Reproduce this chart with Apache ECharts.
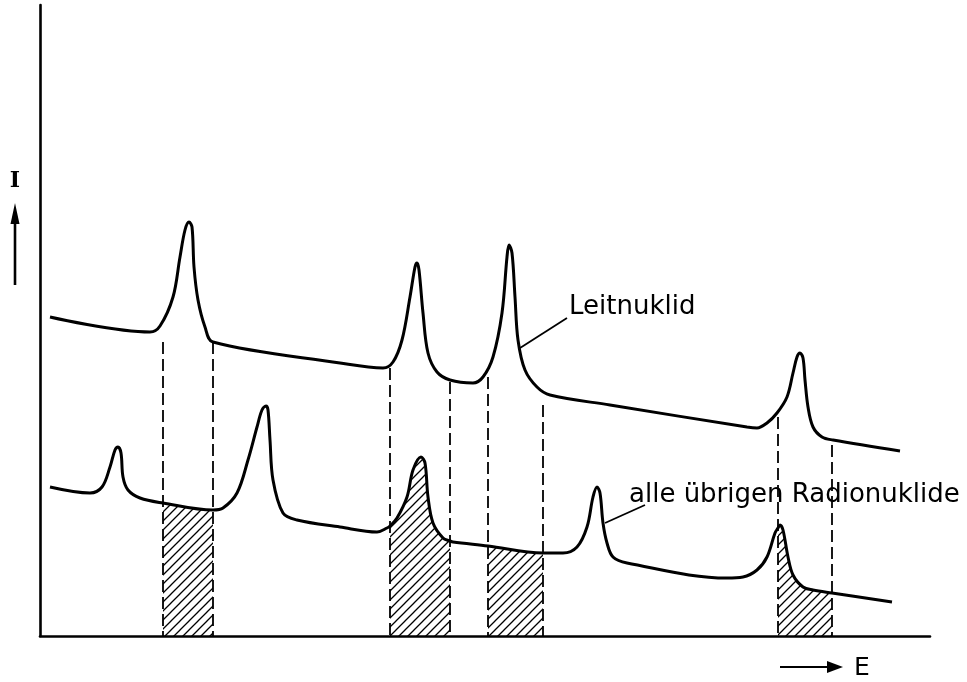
<!DOCTYPE html>
<html>
<head>
<meta charset="utf-8">
<script src="https://cdn.jsdelivr.net/npm/echarts@6/dist/echarts.min.js"></script>
<style>html,body{margin:0;padding:0;background:#fff}#c{width:967px;height:682px}</style>
</head>
<body>
<div id="c"></div>
<script>
// Energy (E) / intensity (I) read from the schematic, arbitrary units
var leitE = [10,110,120,133,140,145,149,152,154,158,165,173,300,343,353,362,370,375,377,379,383,388,397,410,433,443,453,462,467,469,472,475,478,485,497,510,570,707,717,727,737,747,753,757,760,763,765,768,773,782,793,860];
var leitI = [319,304,310,339,379,406,414,409,369,336,309,294,273,268,274,296,339,369,373,366,323,283,264,256,253,259,279,323,379,391,383,339,296,266,249,241,231,209,208,213,223,239,263,279,283,278,256,229,209,199,196,185];
var restE = [10,50,62,70,75,78,81,83,88,100,123,173,183,197,208,217,222,226,228,230,233,243,257,300,337,347,350,357,367,373,381,385,388,393,403,410,413,448,503,523,537,547,553,557,560,563,567,573,587,687,703,717,727,735,738,740,743,748,753,763,773,792,852];
var restI = [149,143,149,169,186,189,183,159,146,138,133,126,128,143,176,209,226,230,226,196,156,123,116,109,104,108,110,118,139,166,179,173,139,113,98,95,94,90,83,83,89,109,139,149,143,113,93,79,73,58,59,66,79,103,108,111,106,79,61,49,46,43,34];
// dashed windows (left/right energy of each window) and top of dashed line
var windowLeft  = [123, 350, 448, 738];
var windowRight = [173, 410, 503, 792];
var dashTopLeft  = [294, 268, 259, 219];
var dashTopRight = [294, 254, 231, 191];

var E_MAX = 890, I_MAX = 631;

function pairs(xs, ys){ return xs.map(function(x,i){return [x, ys[i]];}); }
var leitData = pairs(leitE, leitI);
var restData = pairs(restE, restI);

// hatch pattern
var pc = document.createElement('canvas');
pc.width = 9; pc.height = 9;
var g = pc.getContext('2d');
g.strokeStyle = '#000'; g.lineWidth = 1.3;
g.beginPath();
g.moveTo(0,9); g.lineTo(9,0);
g.moveTo(-1,1); g.lineTo(1,-1);
g.moveTo(8,10); g.lineTo(10,8);
g.stroke();

var series = [];
var SM = 0.35;
series.push({type:'line', data: leitData, smooth: SM, symbol:'none',
  lineStyle:{color:'#000', width:3}, z:5, silent:true});
series.push({type:'line', data: restData, smooth: SM, symbol:'none',
  lineStyle:{color:'#000', width:3}, z:5, silent:true});

for (var k=0;k<windowLeft.length;k++){
  var a = windowLeft[k], b = windowRight[k];
  var sub = restData.filter(function(p){return p[0]>=a && p[0]<=b;});
  series.push({type:'line', data: sub, smooth: SM, symbol:'none',
    lineStyle:{width:0, opacity:0}, z:2, silent:true,
    areaStyle:{color:{image: pc, repeat:'repeat'}, opacity:1, origin:'start'}});
}

var dashLines = [];
for (var k=0;k<windowLeft.length;k++){
  dashLines.push([{coord:[windowLeft[k], dashTopLeft[k]]},{coord:[windowLeft[k], 0]}]);
  dashLines.push([{coord:[windowRight[k], dashTopRight[k]]},{coord:[windowRight[k], 0]}]);
}
series.push({type:'line', data: [], silent:true,
  markLine:{symbol:['none','none'], silent:true, animation:false, label:{show:false},
    lineStyle:{color:'#000', type:[12,5], width:1.8}, data: dashLines}});

var chart = echarts.init(document.getElementById('c'), null, {renderer:'canvas'});
chart.setOption({
  animation:false,
  backgroundColor:'#fff',
  grid:{left:40, right:37, top:5, bottom:46, containLabel:false},
  xAxis:{type:'value', min:0, max:E_MAX, axisLine:{show:true, onZero:false, lineStyle:{color:'#000', width:2.6}},
    axisTick:{show:false}, axisLabel:{show:false}, splitLine:{show:false}},
  yAxis:{type:'value', min:0, max:I_MAX, axisLine:{show:true, onZero:false, lineStyle:{color:'#000', width:2.6}},
    axisTick:{show:false}, axisLabel:{show:false}, splitLine:{show:false}},
  series: series,
  graphic:[
    {type:'text', x:15, y:181, style:{text:'I', font:'bold 22px "DejaVu Serif"', fill:'#000', align:'center', verticalAlign:'middle'}},
    {type:'line', shape:{x1:15, y1:285, x2:15, y2:220}, style:{stroke:'#000', lineWidth:2.6}},
    {type:'polygon', shape:{points:[[15,203],[10.5,224],[19.5,224]]}, style:{fill:'#000'}},
    {type:'line', shape:{x1:780, y1:667, x2:830, y2:667}, style:{stroke:'#000', lineWidth:1.8}},
    {type:'polygon', shape:{points:[[843,667],[827,661],[827,673]]}, style:{fill:'#000'}},
    {type:'text', x:854, y:668, style:{text:'E', font:'25px "DejaVu Sans"', fill:'#000', verticalAlign:'middle'}},
    {type:'line', shape:{x1:520, y1:348, x2:567, y2:318}, style:{stroke:'#000', lineWidth:1.8}},
    {type:'text', x:569, y:307, style:{text:'Leitnuklid', font:'26px "DejaVu Sans"', fill:'#000', verticalAlign:'middle'}},
    {type:'line', shape:{x1:605, y1:523, x2:645, y2:505}, style:{stroke:'#000', lineWidth:1.8}},
    {type:'text', x:629, y:495, style:{text:'alle übrigen Radionuklide', font:'26px "DejaVu Sans"', fill:'#000', verticalAlign:'middle'}}
  ]
});
</script>
</body>
</html>
